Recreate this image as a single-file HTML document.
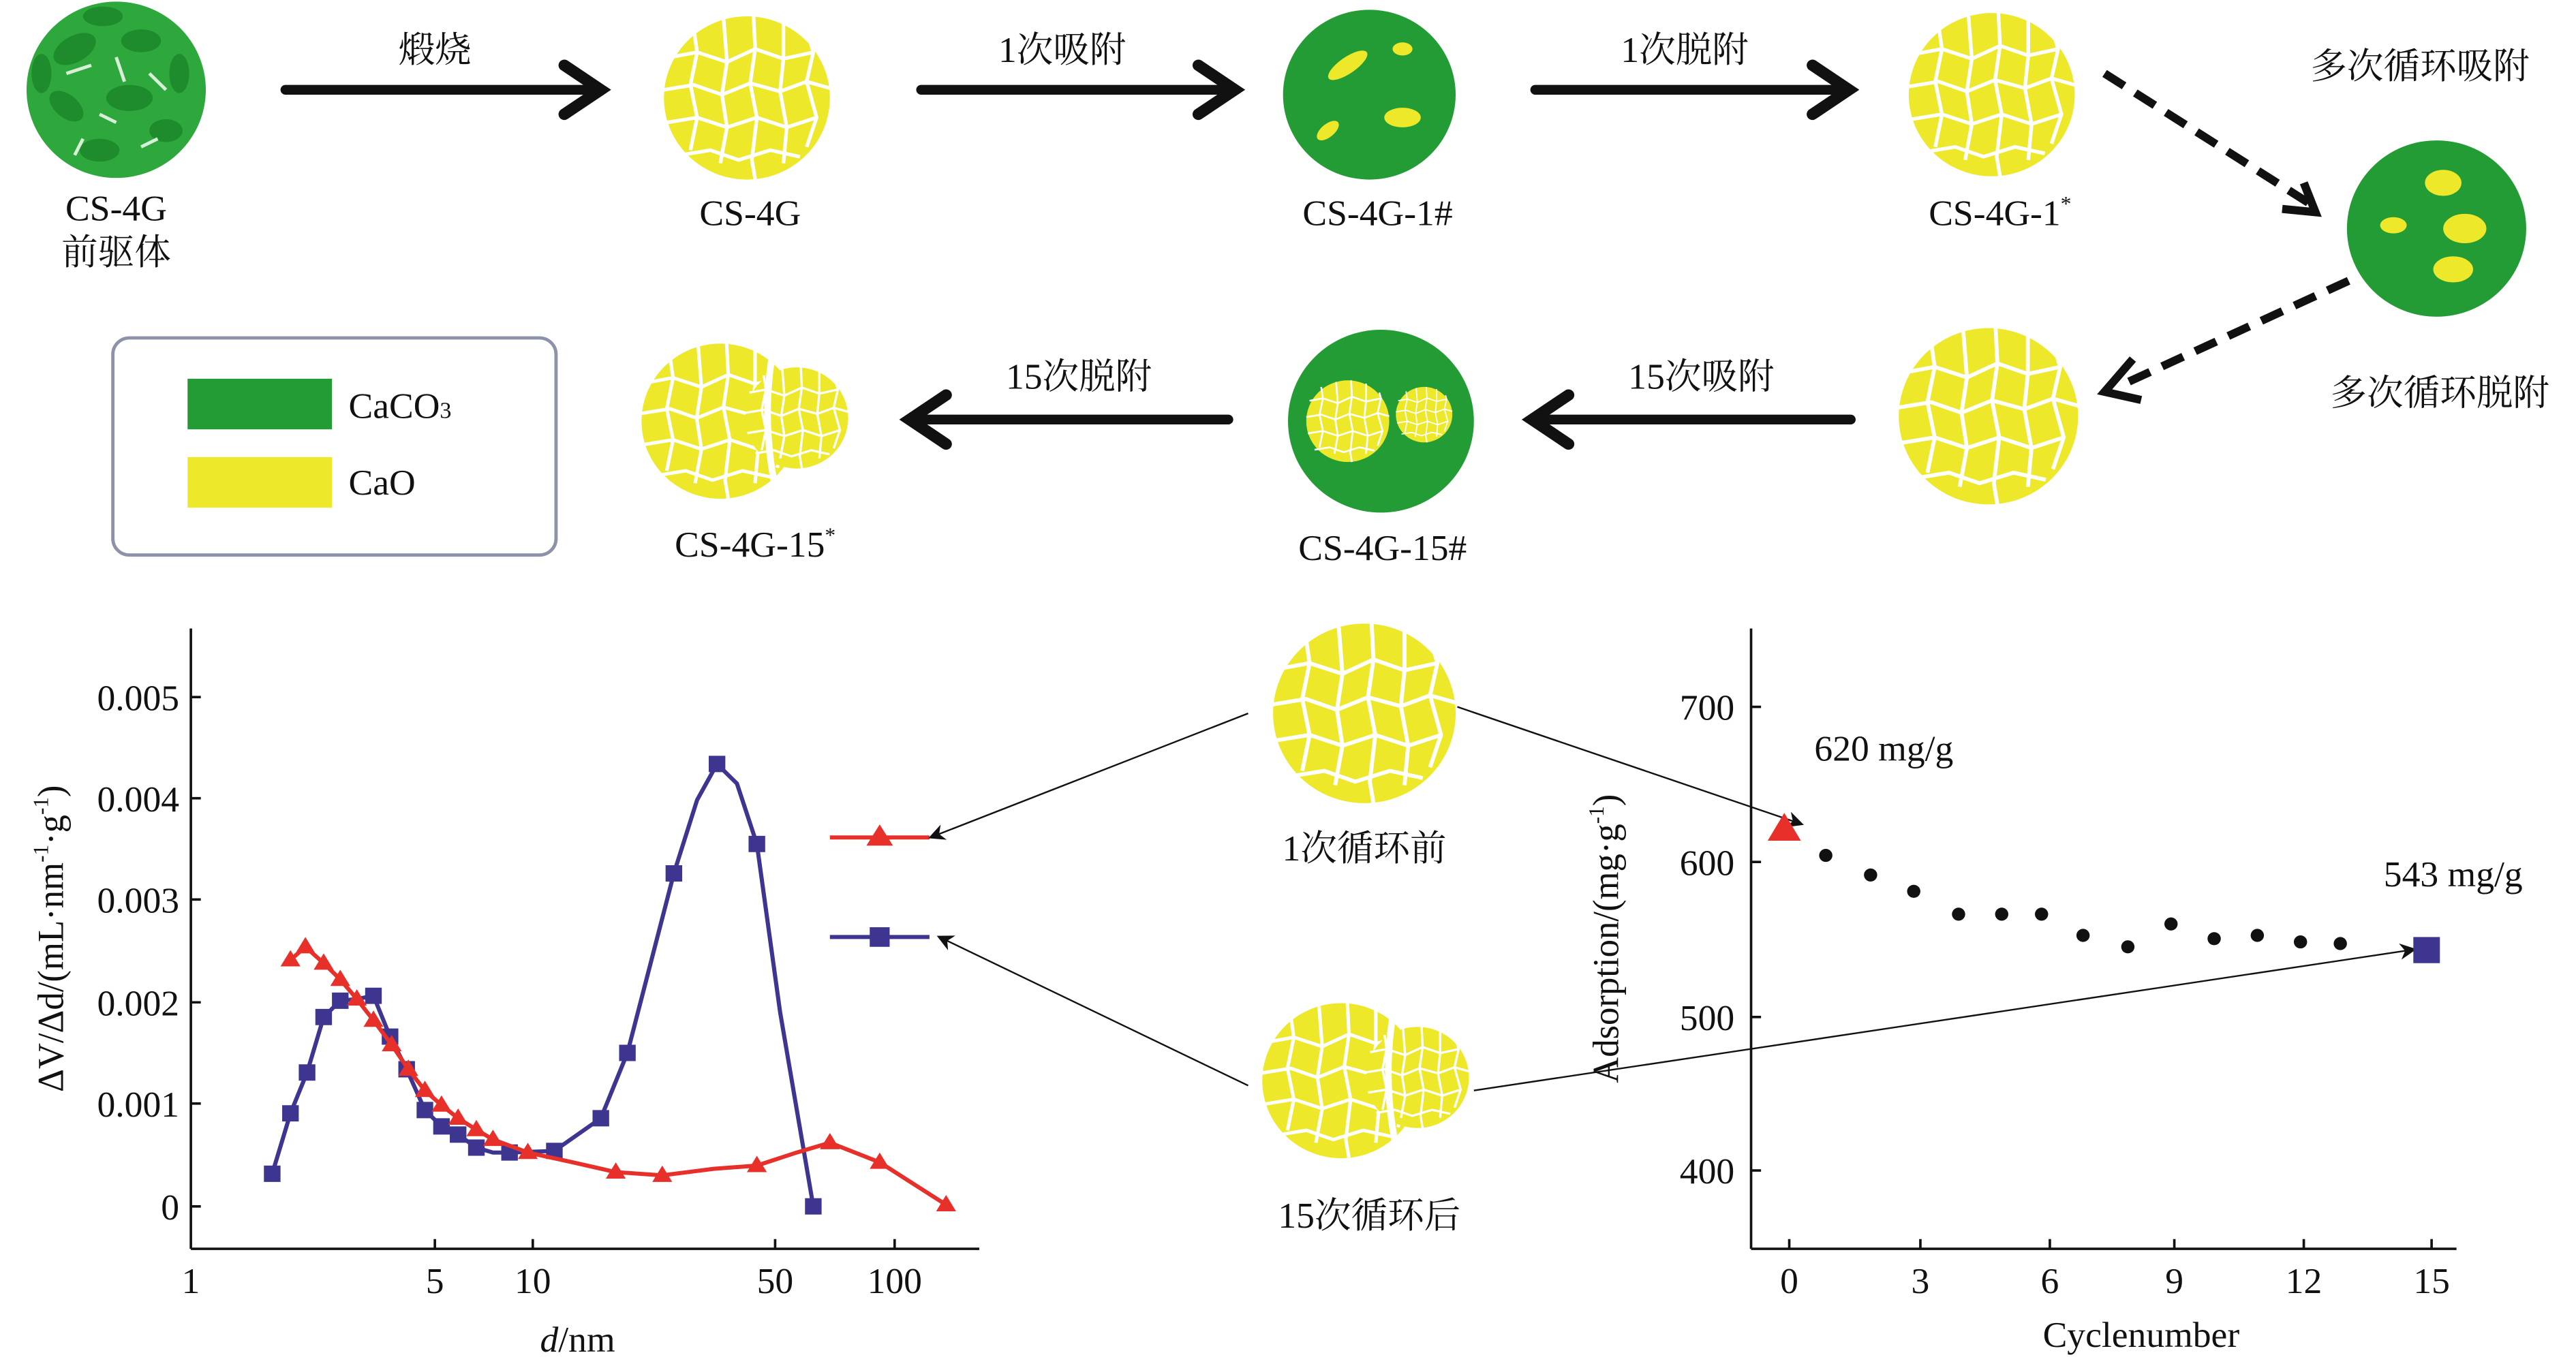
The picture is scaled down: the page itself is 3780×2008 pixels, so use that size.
<!DOCTYPE html>
<html><head><meta charset="utf-8"><style>
html,body{margin:0;padding:0;background:#fff;width:3780px;height:2008px;overflow:hidden}
svg{display:block}
text{font-family:"Liberation Serif","Noto Serif CJK SC","Noto Sans CJK SC",serif;fill:#111}
</style></head><body>
<svg width="3780" height="2008" viewBox="0 0 1552 838" preserveAspectRatio="none" xmlns="http://www.w3.org/2000/svg">
<defs>
<marker id="ah" markerWidth="10" markerHeight="10" refX="6" refY="5" orient="auto" markerUnits="userSpaceOnUse" viewBox="0 0 10 10"><path d="M0,0 L10,5 L0,10 L3,5Z" fill="#111"/></marker>
<g id="ycrack">
<path d="M-46,-25 L-30,-28 L-12,-22 L5,-30 L22,-24 L40,-28 M-50,-5 L-32,-8 L-15,-2 L2,-9 L20,-4 L36,-10 L50,-6 M-48,15 L-30,12 L-12,18 L6,12 L24,18 L42,12 M-40,35 L-22,32 L-5,38 L14,32 L32,36 M-32,-42 L-30,-28 L-34,-8 L-30,12 L-34,32 M-14,-48 L-12,-22 L-15,-2 L-12,18 L-16,40 M4,-50 L5,-30 L2,-9 L6,12 L3,38 L5,50 M22,-46 L22,-24 L20,-4 L24,18 L22,40 M38,-35 L40,-28 L36,-10 L42,12 L36,30" stroke="#fff" stroke-width="2.2" fill="none"/>
</g>
<g id="yball"><circle r="50" fill="#ede82a"/><use href="#ycrack"/></g>
<g id="ydouble">
<g transform="translate(-14,0) scale(0.95)"><use href="#yball"/></g>
<g transform="translate(32,-2) scale(0.62)"><circle r="50" fill="#ede82a"/><use href="#ycrack"/></g>
<path d="M18,-45 Q10,0 20,45" stroke="#fff" stroke-width="4" fill="none"/>
</g>
</defs>

<!-- precursor -->
<circle cx="70" cy="55" r="54" fill="#2ea83c"/>
<g fill="#1e8c2c">
<ellipse cx="45" cy="30" rx="14" ry="8" transform="rotate(-30 45 30)"/><ellipse cx="85" cy="25" rx="12" ry="7"/>
<ellipse cx="40" cy="65" rx="12" ry="7" transform="rotate(40 40 65)"/><ellipse cx="78" cy="60" rx="14" ry="8"/>
<ellipse cx="100" cy="80" rx="10" ry="7"/><ellipse cx="60" cy="92" rx="12" ry="7"/>
<ellipse cx="25" cy="45" rx="6" ry="12"/><ellipse cx="108" cy="45" rx="6" ry="12"/><ellipse cx="62" cy="10" rx="12" ry="6"/>
</g>
<g stroke="#d8f0d8" stroke-width="2" fill="none"><path d="M40,45 L55,40 M70,35 L75,50 M60,70 L70,75 M90,45 L100,55 M50,85 L45,95 M85,90 L95,85"/></g>
<text x="70" y="135" font-size="22" text-anchor="middle">CS-4G</text>
<text x="70" y="162" font-size="22" text-anchor="middle">前驱体</text>

<!-- arrows -->
<g stroke="#111" stroke-width="6" stroke-linecap="round">
<line x1="172" y1="55" x2="358" y2="55"/><line x1="555" y1="55" x2="740" y2="55"/><line x1="925" y1="55" x2="1110" y2="55"/>
<line x1="1115" y1="257" x2="927" y2="257"/><line x1="740" y1="257" x2="552" y2="257"/>
</g>
<g stroke="#111" stroke-width="7" fill="none" stroke-linejoin="miter" stroke-linecap="round">
<path d="M340,40 L362,55 L340,70"/>
<path d="M722,40 L744,55 L722,70"/>
<path d="M1092,40 L1114,55 L1092,70"/>
<path d="M945,242 L923,257 L945,272"/>
<path d="M570,242 L548,257 L570,272"/>
</g>
<g stroke="#111" stroke-width="5" stroke-dasharray="14,8" fill="none">
<line x1="1268" y1="45" x2="1392" y2="125"/><line x1="1415" y1="172" x2="1280" y2="235"/>
</g>
<path d="M1375,128 L1395,130 L1388,112" stroke="#111" stroke-width="5" fill="none"/>
<path d="M1285,220 L1268,240 L1290,245" stroke="#111" stroke-width="5" fill="none"/>

<text x="262" y="38" font-size="22" text-anchor="middle">煅烧</text>
<text x="640" y="38" font-size="22" text-anchor="middle">1次吸附</text>
<text x="1015" y="38" font-size="22" text-anchor="middle">1次脱附</text>
<text x="1458" y="48" font-size="22" text-anchor="middle">多次循环吸附</text>
<text x="1470" y="248" font-size="22" text-anchor="middle">多次循环脱附</text>
<text x="1025" y="238" font-size="22" text-anchor="middle">15次吸附</text>
<text x="650" y="238" font-size="22" text-anchor="middle">15次脱附</text>

<!-- particles -->
<use href="#yball" transform="translate(450,60)"/>
<text x="452" y="138" font-size="22" text-anchor="middle">CS-4G</text>
<circle cx="825" cy="58" r="52" fill="#249c35"/>
<ellipse cx="812" cy="40" rx="14" ry="5" fill="#ede82a" transform="rotate(-35 812 40)"/>
<ellipse cx="845" cy="30" rx="6" ry="4" fill="#ede82a"/>
<ellipse cx="845" cy="72" rx="11" ry="6" fill="#ede82a"/>
<ellipse cx="800" cy="80" rx="8" ry="4" fill="#ede82a" transform="rotate(-40 800 80)"/>
<text x="830" y="138" font-size="22" text-anchor="middle">CS-4G-1#</text>
<use href="#yball" transform="translate(1200,58)"/>
<text x="1205" y="138" font-size="22" text-anchor="middle">CS-4G-1<tspan font-size="13" dy="-9">*</tspan></text>
<circle cx="1468" cy="140" r="54" fill="#249c35"/>
<ellipse cx="1472" cy="112" rx="11" ry="8" fill="#ede82a"/>
<ellipse cx="1485" cy="140" rx="13" ry="9" fill="#ede82a"/>
<ellipse cx="1442" cy="138" rx="8" ry="5" fill="#ede82a"/>
<ellipse cx="1478" cy="165" rx="12" ry="8" fill="#ede82a"/>
<use href="#yball" transform="translate(1198,255) scale(1.08)"/>
<circle cx="832" cy="258" r="56" fill="#249c35"/>
<g transform="translate(812,258) scale(0.5)"><use href="#yball"/></g>
<g transform="translate(858,254) scale(0.34)"><use href="#yball"/></g>
<text x="833" y="343" font-size="22" text-anchor="middle">CS-4G-15#</text>
<use href="#ydouble" transform="translate(448,258)"/>
<text x="455" y="341" font-size="22" text-anchor="middle">CS-4G-15<tspan font-size="13" dy="-9">*</tspan></text>

<!-- legend -->
<rect x="68" y="207" width="267" height="133" rx="10" fill="#fff" stroke="#8e92a8" stroke-width="2"/>
<rect x="113" y="232" width="87" height="31" fill="#249c35"/>
<rect x="113" y="280" width="87" height="31" fill="#ede82a"/>
<text x="210" y="256" font-size="22">CaCO<tspan font-size="14">3</tspan></text>
<text x="210" y="303" font-size="22">CaO</text>

<!-- left chart -->
<g stroke="#111" stroke-width="1.5" fill="none">
<line x1="115" y1="385" x2="115" y2="765"/><line x1="115" y1="765" x2="590" y2="765"/>
<path d="M115,739h6M115,676h6M115,614h6M115,551h6M115,489h6M115,427h6"/>
<path d="M262,765v-6M321,765v-6M467,765v-6M539,765v-6"/>
</g>
<g font-size="22" text-anchor="end">
<text x="108" y="747">0</text><text x="108" y="684">0.001</text><text x="108" y="622">0.002</text><text x="108" y="559">0.003</text><text x="108" y="497">0.004</text><text x="108" y="435">0.005</text>
</g>
<g font-size="22" text-anchor="middle">
<text x="115" y="792">1</text><text x="262" y="792">5</text><text x="321" y="792">10</text><text x="467" y="792">50</text><text x="539" y="792">100</text>
<text x="348" y="828"><tspan font-style="italic">d</tspan>/nm</text>
</g>
<text transform="translate(38,575) rotate(-90)" font-size="22" text-anchor="middle">ΔV/Δd/(mL·nm<tspan font-size="13" dy="-9">-1</tspan><tspan dy="9">·g</tspan><tspan font-size="13" dy="-9">-1</tspan><tspan dy="9">)</tspan></text>
<polyline fill="none" stroke="#3d3590" stroke-width="2.5" points="164,719 175,682 185,657 195,623 205,613 215,612 225,610 235,635 245,655 256,680 266,690 276,695 287,703 297,706 308,706 334,705 362,685 378,645 406,535 420,490 432,468 444,480 456,517 470,620 490,739"/>
<g fill="#3d3590"><path d="M159,714h10v10h-10zM170,677h10v10h-10zM180,652h10v10h-10zM190,618h10v10h-10zM200,608h10v10h-10zM220,605h10v10h-10zM230,630h10v10h-10zM240,650h10v10h-10zM251,675h10v10h-10zM261,685h10v10h-10zM271,690h10v10h-10zM282,698h10v10h-10zM302,701h10v10h-10zM329,700h10v10h-10zM357,680h10v10h-10zM373,640h10v10h-10zM401,530h10v10h-10zM427,463h10v10h-10zM451,512h10v10h-10zM485,734h10v10h-10z"/></g>
<polyline fill="none" stroke="#e8302a" stroke-width="2.5" points="175,588 184,580 195,590 205,600 215,612 225,625 236,640 246,655 256,668 266,677 276,685 287,692 297,698 318,706 345,712 371,718 399,720 430,716 456,714 480,706 500,700 530,712 570,738"/>
<g fill="#e8302a"><path d="M175,582l6,10h-12zM184,574l6,10h-12zM195,584l6,10h-12zM205,594l6,10h-12zM215,606l6,10h-12zM225,619l6,10h-12zM236,634l6,10h-12zM246,649l6,10h-12zM256,662l6,10h-12zM266,671l6,10h-12zM276,679l6,10h-12zM287,686l6,10h-12zM297,692l6,10h-12zM318,700l6,10h-12zM371,712l6,10h-12zM399,714l6,10h-12zM456,708l6,10h-12zM500,694l6,10h-12zM530,706l6,10h-12zM570,732l6,10h-12z"/></g>
<line x1="500" y1="513" x2="560" y2="513" stroke="#e8302a" stroke-width="2.5"/><path d="M530,505l8,13h-16z" fill="#e8302a"/>
<line x1="500" y1="574" x2="560" y2="574" stroke="#3d3590" stroke-width="2.5"/><rect x="524" y="568" width="12" height="12" fill="#3d3590"/>

<!-- middle -->
<use href="#yball" transform="translate(822,437) scale(1.1)"/>
<text x="822" y="527" font-size="22" text-anchor="middle">1次循环前</text>
<use href="#ydouble" transform="translate(822,662)"/>
<text x="825" y="752" font-size="22" text-anchor="middle">15次循环后</text>
<g stroke="#111" stroke-width="1" marker-end="url(#ah)">
<line x1="752" y1="437" x2="563" y2="512"/><line x1="878" y1="433" x2="1083" y2="504"/>
<line x1="752" y1="665" x2="568" y2="575"/><line x1="888" y1="668" x2="1452" y2="582"/>
</g>

<!-- right chart -->
<g stroke="#111" stroke-width="1.5" fill="none">
<line x1="1055" y1="385" x2="1055" y2="765"/><line x1="1055" y1="765" x2="1480" y2="765"/>
<path d="M1055,433h6M1055,528h6M1055,623h6M1055,717h6"/>
<path d="M1078,765v-6M1157,765v-6M1235,765v-6M1310,765v-6M1388,765v-6M1465,765v-6"/>
</g>
<g font-size="22" text-anchor="end"><text x="1045" y="441">700</text><text x="1045" y="536">600</text><text x="1045" y="631">500</text><text x="1045" y="725">400</text></g>
<g font-size="22" text-anchor="middle">
<text x="1078" y="792">0</text><text x="1157" y="792">3</text><text x="1235" y="792">6</text><text x="1310" y="792">9</text><text x="1388" y="792">12</text><text x="1465" y="792">15</text>
<text x="1290" y="825">Cyclenumber</text>
<text x="1135" y="466">620 mg/g</text><text x="1478" y="543">543 mg/g</text>
</g>
<text transform="translate(975,575) rotate(-90)" font-size="22" text-anchor="middle">Adsorption/(mg·g<tspan font-size="13" dy="-9">-1</tspan><tspan dy="9">)</tspan></text>
<path d="M1075,498l10,17h-20z" fill="#e8302a"/>
<g fill="#111"><circle cx="1100" cy="524" r="4"/><circle cx="1127" cy="536" r="4"/><circle cx="1153" cy="546" r="4"/><circle cx="1180" cy="560" r="4"/><circle cx="1206" cy="560" r="4"/><circle cx="1230" cy="560" r="4"/><circle cx="1255" cy="573" r="4"/><circle cx="1282" cy="580" r="4"/><circle cx="1308" cy="566" r="4"/><circle cx="1334" cy="575" r="4"/><circle cx="1360" cy="573" r="4"/><circle cx="1386" cy="577" r="4"/><circle cx="1410" cy="578" r="4"/></g>
<rect x="1454" y="574" width="16" height="16" fill="#3d3590"/>
</svg>
</body></html>
